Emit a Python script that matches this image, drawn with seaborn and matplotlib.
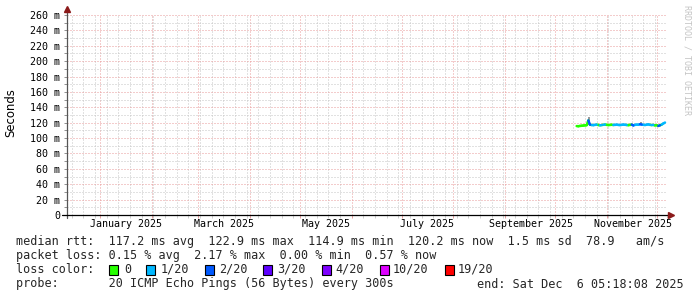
import matplotlib
matplotlib.use("Agg")
import matplotlib.pyplot as plt
import matplotlib.dates as mdates
from matplotlib.ticker import MultipleLocator, FuncFormatter
from matplotlib.patches import Rectangle
import seaborn as sns
import pandas as pd
import numpy as np

# ---------------- data ----------------
first_day = "2025-10-14"
median_ms = [115.6, 115.4, 115.8, 116.0, 116.3, 116.5, 116.8, 122.9, 117.4, 117.0,
             116.8, 117.2, 117.5, 117.0, 116.6, 116.9, 117.3, 117.6, 117.2, 116.9,
             117.1, 117.3, 117.0, 117.2, 117.4, 117.1, 116.9, 117.2, 117.5, 117.3,
             117.0, 116.8, 117.1, 117.6, 116.4, 117.2, 117.5, 117.3, 118.0, 117.6,
             117.2, 117.0, 117.4, 117.8, 117.2, 116.9, 117.1, 116.5, 116.8, 115.8,
             116.6, 117.5, 119.0, 120.2]
loss_of_20 = [0, 0, 0, 0, 0, 0, 0, 2, 0, 1,
              1, 1, 0, 0, 1, 0, 1, 0, 0, 0,
              0, 0, 1, 1, 1, 1, 1, 1, 1, 1,
              0, 0, 0, 2, 1, 1, 1, 1, 2, 1,
              1, 1, 1, 1, 0, 1, 0, 0, 0, 2,
              0, 1, 1, 1]
smoke_lo = [114.9, 114.9, 115.2, 115.4, 115.7, 115.9, 116.1, 117.0, 116.8, 116.4,
            116.2, 116.6, 116.9, 116.4, 116.0, 116.3, 116.7, 117.0, 116.6, 116.3,
            116.5, 116.7, 116.4, 116.6, 116.8, 116.5, 116.3, 116.6, 116.9, 116.7,
            116.4, 116.2, 116.5, 117.0, 115.8, 116.6, 116.9, 116.7, 117.0, 117.0,
            116.6, 116.4, 116.8, 117.2, 116.6, 116.3, 116.5, 115.9, 116.2, 115.2,
            116.0, 116.9, 118.4, 119.6]
smoke_hi = [116.3, 116.1, 116.5, 116.7, 117.0, 117.2, 117.5, 127.5, 118.1, 117.7,
            117.5, 117.9, 118.2, 117.7, 117.3, 117.6, 118.0, 118.3, 117.9, 117.6,
            117.8, 118.0, 117.7, 117.9, 118.1, 117.8, 117.6, 117.9, 118.2, 118.0,
            117.7, 117.5, 117.8, 118.3, 117.1, 117.9, 118.2, 118.0, 120.5, 118.3,
            117.9, 117.7, 118.1, 118.5, 117.9, 117.6, 117.8, 117.2, 117.5, 116.5,
            117.3, 118.2, 119.7, 120.9]

loss_labels = ["0", "1/20", "2/20", "3/20", "4/20", "10/20", "19/20"]
loss_colors = ["#26ff00", "#00b8ff", "#0059ff", "#5e00ff", "#7e00ff", "#dd00ff", "#ff0000"]
loss_levels = [0, 1, 2, 3, 4, 10, 19]

month_labels = ["January 2025", "March 2025", "May 2025", "July 2025",
                "September 2025", "November 2025"]
month_label_dates = ["2025-01-16 12:00", "2025-03-16 12:00", "2025-05-16 12:00",
                     "2025-07-16 12:00", "2025-09-16 12:00", "2025-11-16 12:00"]

stats_line = "median rtt:  117.2 ms avg  122.9 ms max  114.9 ms min  120.2 ms now  1.5 ms sd  78.9   am/s"
loss_line = "packet loss: 0.15 % avg  2.17 % max  0.00 % min  0.57 % now"
probe_line = "probe:       20 ICMP Echo Pings (56 Bytes) every 300s"
end_line = "end: Sat Dec  6 05:18:08 2025"

# ---------------- build table ----------------
dates = pd.date_range(first_day, periods=len(median_ms), freq="D")
lvl2lab = dict(zip(loss_levels, loss_labels))
rows = []
for i in range(len(dates) - 1):
    lab = lvl2lab[loss_of_20[i]]
    rows.append(dict(seg=i, date=dates[i], ms=median_ms[i], loss=lab))
    rows.append(dict(seg=i, date=dates[i + 1], ms=median_ms[i + 1], loss=lab))
seg_df = pd.DataFrame(rows)

# ---------------- figure ----------------
sns.set_theme(style="white")
plt.rcParams["font.family"] = ["DejaVu Sans Mono", "DejaVu Sans"]
plt.rcParams["lines.scale_dashes"] = False

W, H = 697, 297
fig = plt.figure(figsize=(W / 100, H / 100), dpi=100, facecolor="white")
ax = fig.add_axes([67 / W, 82 / H, 600 / W, 200 / H], facecolor="white")

x0 = pd.Timestamp("2025-01-01") - pd.Timedelta(days=19.8)
x1 = x0 + pd.Timedelta(days=360)
ax.set_xlim(x0, x1)
ax.set_ylim(0, 260)

# grid
ax.xaxis.set_major_locator(mdates.MonthLocator())
ax.xaxis.set_minor_locator(mdates.WeekdayLocator(byweekday=mdates.SU))
ax.yaxis.set_major_locator(MultipleLocator(20))
ax.yaxis.set_minor_locator(MultipleLocator(10))
dots = (0, (0.72, 1.44))
ax.grid(which="minor", color="#c4c4c4", linestyle=dots, linewidth=0.72)
ax.grid(which="major", color="#e89a9a", linestyle=dots, linewidth=0.72)
ax.set_axisbelow(True)

ax.yaxis.set_major_formatter(FuncFormatter(lambda v, p: "0" if v == 0 else f"{int(v)} m"))
ax.tick_params(axis="y", which="both", left=True, length=2, width=0.7,
               color="#909090", labelsize=7.2, pad=3, labelcolor="black")
ax.tick_params(axis="x", which="major", bottom=True, length=2.5, width=0.7,
               color="#e6a0a0", labelbottom=False)
ax.tick_params(axis="x", which="minor", bottom=True, length=2, width=0.7,
               color="#cfcfcf", labelbottom=False)
for s in ax.spines.values():
    s.set_visible(False)

# smoke
ax.fill_between(dates, smoke_lo, smoke_hi, step="post", color="#9a9a9a", linewidth=0, zorder=2)

# median line coloured by loss
sns.lineplot(data=seg_df, x="date", y="ms", hue="loss", units="seg", estimator=None,
             palette=dict(zip(loss_labels, loss_colors)), hue_order=loss_labels,
             linewidth=1.8, legend=False, ax=ax, zorder=3)
ax.set_xlabel("")
ax.set_ylabel("")

# axes lines with arrows
ax.plot([0, 0], [-0.015, 1.03], transform=ax.transAxes, color="#555555",
        lw=0.9, clip_on=False, zorder=4)
ax.plot([-0.008, 1.005], [0, 0], transform=ax.transAxes, color="black",
        lw=0.9, clip_on=False, zorder=4)
ax.plot([0], [1.03], marker="^", markersize=4, color="#8b1a1a",
        transform=ax.transAxes, clip_on=False, zorder=5)
ax.plot([1.006], [0], marker=">", markersize=4, color="#8b1a1a",
        transform=ax.transAxes, clip_on=False, zorder=5)

# month labels
for lab, d in zip(month_labels, month_label_dates):
    ax.text(pd.Timestamp(d), -9 / 200, lab, transform=ax.get_xaxis_transform(),
            ha="center", va="center", fontsize=7.2, color="black")

# y label
fig.text(11 / W, 1 - 113 / H, "Seconds", rotation=90, ha="center", va="center",
         fontsize=8.4, family=["DejaVu Sans"], color="black")

# watermark
fig.text(687 / W, 1 - 60 / H, "RRDTOOL / TOBI OETIKER", rotation=270, ha="center",
         va="center", fontsize=6, color="#c4c4c4")

# legend text
fs = 8.5
fig.text(16.5 / W, 1 - 241 / H, stats_line, ha="left", va="center", fontsize=fs)
fig.text(16.5 / W, 1 - 256 / H, loss_line, ha="left", va="center", fontsize=fs)
fig.text(16.5 / W, 1 - 269.5 / H, "loss color:", ha="left", va="center", fontsize=fs)
box_x = [108.6, 146, 204.6, 262.7, 321.7, 379.8, 444.6]
lab_x = [123.8, 161, 219, 277, 335, 393, 458]
for bx, lx, lab, col in zip(box_x, lab_x, loss_labels, loss_colors):
    fig.patches.append(Rectangle((bx / W, 1 - 274.5 / H), 9 / W, 10 / H,
                                 transform=fig.transFigure, facecolor=col,
                                 edgecolor="black", linewidth=0.8))
    fig.text(lx / W, 1 - 269.5 / H, lab, ha="left", va="center", fontsize=fs)
fig.text(16.5 / W, 1 - 284 / H, probe_line, ha="left", va="center", fontsize=fs)
fig.text(684 / W, 1 - 284 / H, end_line, ha="right", va="center", fontsize=fs)

fig.savefig("out.png", dpi=100, facecolor="white")
